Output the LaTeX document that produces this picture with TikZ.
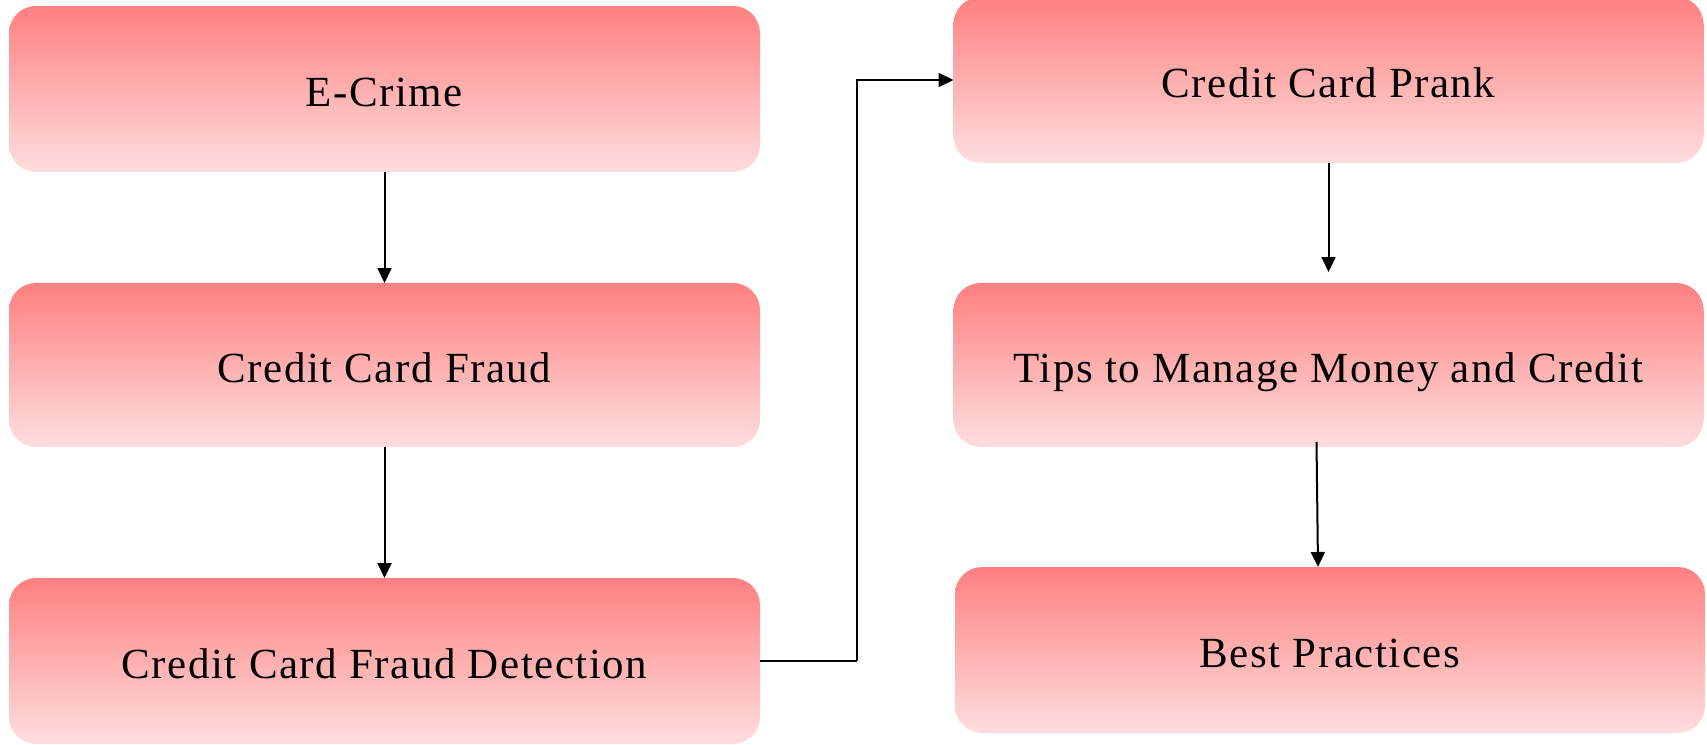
\documentclass[tikz,border=0pt]{standalone}
\usepackage{fontspec}
\setmainfont{Liberation Serif}[LetterSpace=3.5]
\usetikzlibrary{arrows.meta,positioning,calc}
\definecolor{boxtop}{RGB}{255,128,128}
\definecolor{boxbot}{RGB}{255,222,222}
\tikzset{
  flowbox/.style={rectangle, rounded corners=27pt, top color=boxtop, bottom color=boxbot,
    draw=none, inner sep=0pt, outer sep=0pt, minimum width=751pt, minimum height=166pt,
    text height=34pt, text depth=0pt,
    font=\fontsize{43}{52}\selectfont},
  conn/.style={line width=2pt, -{Triangle[length=15pt,width=14pt]}}
}
\begin{document}
\begin{tikzpicture}[x=1pt,y=-1pt]
\useasboundingbox (0,0) rectangle (1707,744);
\clip (0,0) rectangle (1707,744);
\node[flowbox] (ecrime) at (384.5,89) {E-Crime};
\node[flowbox, minimum height=164pt] (ccf) at (384.5,365) {Credit Card Fraud};
\node[flowbox] (ccfd) at (384.5,661) {Credit Card Fraud Detection};
\node[flowbox, minimum width=750pt] (prank) at (1328.5,80) {Credit Card Prank};
\node[flowbox, minimum width=750pt, minimum height=164pt] (tips) at (1328.5,365) {Tips to Manage Money and Credit};
\node[flowbox, minimum width=750pt] (best) at (1330,650) {Best Practices};
\coordinate (bendA) at (857,661);
\coordinate (bendB) at (857,80);
\draw[conn] (ecrime.south) -- (ccf.north);
\draw[conn] (ccf.south) -- (ccfd.north);
\draw[conn, -] (ccfd.east) -- (bendA);
\draw[conn] (bendA) -- (bendB) -- (prank.west);
\draw[conn] (prank.south) -- ([yshift=11pt]tips.north);
\draw[conn] ([xshift=-12pt,yshift=5pt]tips.south) -- ([xshift=-12pt]best.north);
\end{tikzpicture}
\end{document}
